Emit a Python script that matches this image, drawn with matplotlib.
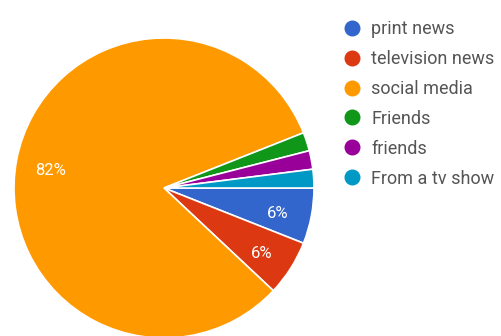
import matplotlib.pyplot as plt
from matplotlib.lines import Line2D
from matplotlib.transforms import ScaledTranslation

labels = ['print news', 'television news', 'social media', 'Friends', 'friends', 'From a tv show']
counts = [3, 3, 41, 1, 1, 1]
colors = ['#3366cc', '#dc3912', '#ff9900', '#109618', '#990099', '#0099c6']

plt.rcParams['font.family'] = ['Roboto', 'DejaVu Sans']

fig = plt.figure(figsize=(5.02, 3.36), dpi=100)
W, H = 502, 336
cx, cy, r = 164, 188, 150
ax = fig.add_axes([(cx - r) / W, (H - cy - r) / H, 2 * r / W, 2 * r / H])

wedges, texts, autotexts = ax.pie(
    counts, colors=colors, startangle=0, counterclock=False,
    autopct=lambda p: '%d%%' % round(p) if p >= 5 else '',
    pctdistance=0.77, radius=1,
    wedgeprops=dict(edgecolor='white', linewidth=1.2),
    textprops=dict(color='white', fontsize=12))
# nudge the percentage labels a little lower
shift = ScaledTranslation(0, -4 / 100, fig.dpi_scale_trans)
for t in autotexts:
    t.set_transform(ax.transData + shift)
ax.set_xlim(-1, 1)
ax.set_ylim(-1, 1)
ax.set_aspect('equal')
ax.axis('off')

handles = [Line2D([], [], marker='o', linestyle='none', markersize=10.5,
                  markerfacecolor=c, markeredgecolor=c) for c in colors]
leg = fig.legend(handles, labels, loc='upper left',
                 bbox_to_anchor=(344 / W, 1 - 20 / H), frameon=False,
                 fontsize=13, labelspacing=0.66, handletextpad=0.62,
                 handlelength=0.9, borderaxespad=0, borderpad=0)
for t in leg.get_texts():
    t.set_color('#555555')

fig.savefig('out.png', dpi=100)
